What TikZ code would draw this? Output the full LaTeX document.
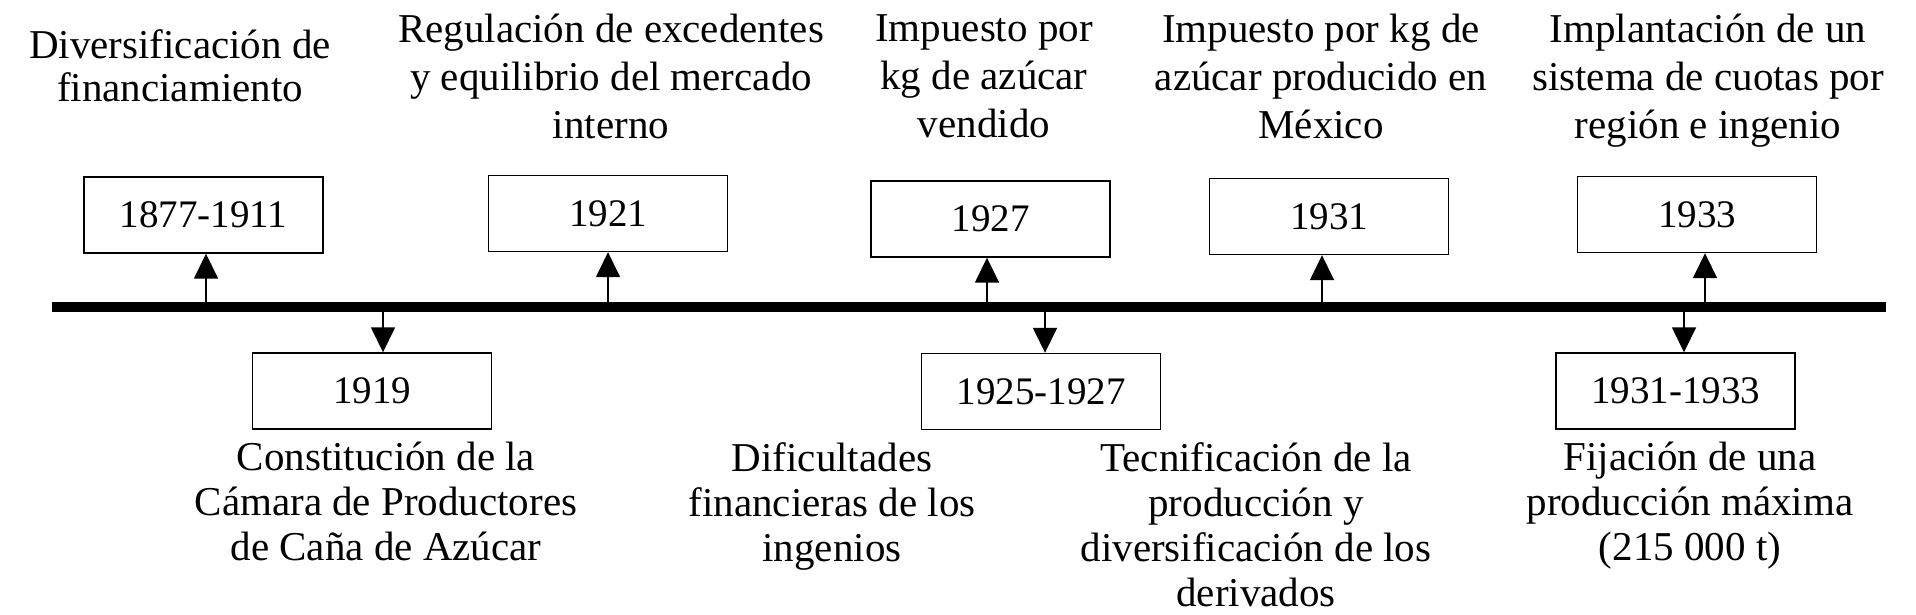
\documentclass[tikz,border=0pt]{standalone}
\usepackage{fontspec}
\setmainfont{Liberation Serif}
\usetikzlibrary{arrows.meta}
\begin{document}
\begin{tikzpicture}[x=1pt,y=-1pt,
  yearbox/.style={draw, line width=1.4pt, minimum width=239pt, minimum height=76pt, inner sep=0pt, font=\fontsize{39}{42}\selectfont},
  toplabel/.style={align=center, anchor=north, font=\fontsize{41}{48}\selectfont, inner sep=0pt},
  botlabel/.style={align=center, anchor=north, font=\fontsize{41}{45}\selectfont, inner sep=0pt},
  conn/.style={line width=1.6pt, -{Triangle[width=24pt,length=25pt]}},
  axisline/.style={line width=10pt}]
\useasboundingbox (0,0) rectangle (1916,615);
% main time axis
\coordinate (L) at (52,307);
\coordinate (R) at (1886,307);
\draw[axisline] (L) -- (R);
% boxes above
\node[yearbox] (b1877) at (203.5,215) {1877-1911};
\node[yearbox] (b1921) at (608,213.5) {1921};
\node[yearbox] (b1927) at (990.5,219) {1927};
\node[yearbox] (b1931) at (1329,216.5) {1931};
\node[yearbox] (b1933) at (1697,214.5) {1933};
% boxes below
\node[yearbox] (b1919) at (372,391) {1919};
\node[yearbox] (b1925) at (1041,391.5) {1925-1927};
\node[yearbox] (b3133) at (1675.5,391) {1931-1933};
% anchor points on the axis
\coordinate (a1877) at (206,307);
\coordinate (a1921) at (608,307);
\coordinate (a1927) at (987,307);
\coordinate (a1931) at (1322,307);
\coordinate (a1933) at (1705,307);
\coordinate (a1919) at (383,307);
\coordinate (a1925) at (1045,307);
\coordinate (a3133) at (1684,307);
% connectors
\draw[conn] (a1877) -- (a1877 |- b1877.south);
\draw[conn] (a1921) -- (a1921 |- b1921.south);
\draw[conn] (a1927) -- (a1927 |- b1927.south);
\draw[conn] (a1931) -- (a1931 |- b1931.south);
\draw[conn] (a1933) -- (a1933 |- b1933.south);
\draw[conn] (a1919) -- (a1919 |- b1919.north);
\draw[conn] (a1925) -- (a1925 |- b1925.north);
\draw[conn] (a3133) -- (a3133 |- b3133.north);
% labels above
\node[toplabel, font=\fontsize{41}{43}\selectfont] (t1877) at (180,29) {Diversificación de\\financiamiento};
\node[toplabel] (t1921) at (611,14) {Regulación de excedentes\\y equilibrio del mercado\\interno};
\node[toplabel] (t1927) at (984,14) {Impuesto por\\kg de azúcar\\vendido};
\node[toplabel] (t1931) at (1321,14) {Impuesto por kg de\\azúcar producido en\\México};
\node[toplabel] (t1933) at (1708,14) {Implantación de un\\sistema de cuotas por\\región e ingenio};
% labels below
\node[botlabel] (t1919) at (386,442) {Constitución de la\\Cámara de Productores\\de Caña de Azúcar};
\node[botlabel] (t1925a) at (832,442) {Dificultades\\financieras de los\\ingenios};
\node[botlabel] (t1925b) at (1256,442) {Tecnificación de la\\producción y\\diversificación de los\\derivados};
\node[botlabel] (t3133) at (1690,442) {Fijación de una\\producción máxima\\(215 000 t)};
\end{tikzpicture}
\end{document}
